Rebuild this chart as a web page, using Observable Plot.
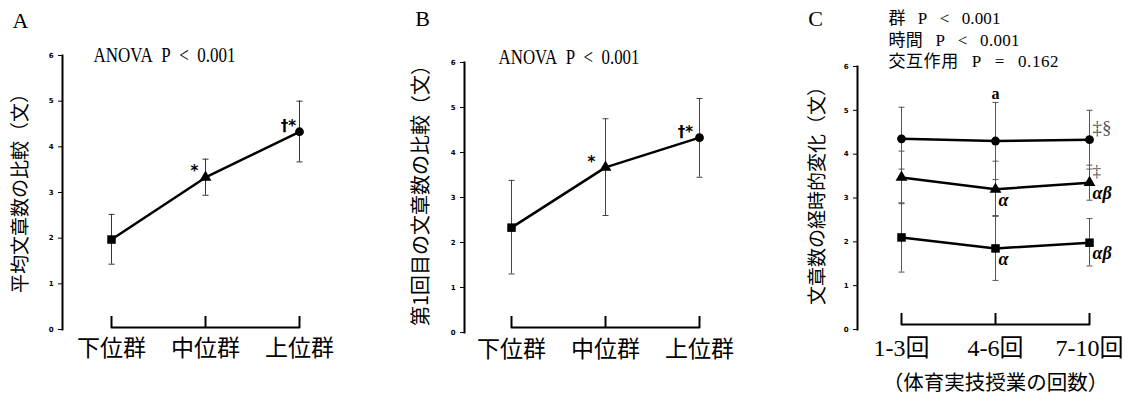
<!DOCTYPE html>
<html><head><meta charset="utf-8">
<script src="https://cdn.jsdelivr.net/npm/d3@7"></script>
<script src="https://cdn.jsdelivr.net/npm/@observablehq/plot@0.6"></script>
<style>
html,body{margin:0;padding:0;background:#fff;}
#wrap{position:relative;width:1128px;height:398px;overflow:hidden;background:#fff;}
.panel{position:absolute;top:0;}
</style></head><body><div id="wrap"></div>
<script>
// ---------- data ----------
const yTicks = [0, 1, 2, 3, 4, 5, 6];
const groupCats = ["下位群", "中位群", "上位群"];
const groupShapes = ["square", "triangle", "circle"];

// Panel A
const meanA = [1.97, 3.33, 4.33];
const lowerA = [1.43, 2.94, 3.67];
const upperA = [2.52, 3.73, 5.00];
const markA = ["", "*", "†*"];
const letterA = "A";
const yLabelA = "平均文章数の比較（文）";
const statA = "ANOVA P < 0.001";

// Panel B
const meanB = [2.33, 3.67, 4.33];
const lowerB = [1.30, 2.60, 3.45];
const upperB = [3.38, 4.75, 5.20];
const markB = ["", "*", "†*"];
const letterB = "B";
const yLabelB = "第1回目の文章数の比較（文）";
const statB = "ANOVA P < 0.001";

// Panel C
const timeCats = ["1-3回", "4-6回", "7-10回"];
const seriesC = ["上位群", "中位群", "下位群"];
const shapesC = ["circle", "triangle", "square"];
const meanHighC = [4.35, 4.30, 4.33];
const lowerHighC = [3.66, 3.42, 3.66];
const upperHighC = [5.07, 5.18, 5.00];
const meanMidC = [3.47, 3.20, 3.35];
const lowerMidC = [2.87, 2.60, 2.95];
const upperMidC = [4.07, 3.84, 3.75];
const meanLowC = [2.10, 1.85, 1.98];
const lowerLowC = [1.31, 1.12, 1.45];
const upperLowC = [2.89, 2.58, 2.53];
const letterMarkC = ["", "a", ""];          // above 上位群 error bar
const daggerHighC = ["", "", "‡§"];
const daggerMidC = ["", "", "‡"];
const greekMidC = ["", "α", "αβ"];
const greekLowC = ["", "α", "αβ"];
const letterC = "C";
const yLabelC = "文章数の経時的変化（文）";
const xLabelC = "（体育実技授業の回数）";
const statsC = ["群 P < 0.001", "時間 P < 0.001", "交互作用 P = 0.162"];

// ---------- helpers ----------
const CJK = "Noto Sans CJK JP";
const wide = s => s.replace(/ /g, "\u2002");
const wider = s => s.replace(/ /g, "\u2002\u2009");
const cap = {draw(ctx) { ctx.moveTo(-3, 0); ctx.lineTo(3, 0); }};
const shapeR = {square: 4.8, triangle: 4.4, circle: 4.4};

function errorMarks(rows, stroke) {
  return [
    Plot.ruleX(rows, {x: "cat", y1: "lo", y2: "hi", stroke, strokeWidth: 1}),
    Plot.dot(rows, {x: "cat", y: "lo", symbol: cap, r: 3, stroke, strokeWidth: 1}),
    Plot.dot(rows, {x: "cat", y: "hi", symbol: cap, r: 3, stroke, strokeWidth: 1})
  ];
}
function shapeMarks(rows) {
  return ["square", "triangle", "circle"].map(s =>
    Plot.dot(rows.filter(d => d.shape === s), {x: "cat", y: "mean", symbol: s, r: shapeR[s], fill: "black", stroke: "none"}));
}
function fitText(chart, selector, content, length, adjust) {
  d3.select(chart).selectAll(selector)
    .filter(function() { return this.textContent === content; })
    .attr("textLength", length).attr("lengthAdjust", adjust);
}

function panel(o) {
  const frameH = o.height - o.marginTop - o.marginBottom;
  const chart = Plot.plot({
    width: 376,
    height: o.height,
    marginLeft: o.marginLeft,
    marginTop: o.marginTop,
    marginBottom: o.marginBottom,
    marginRight: 10,
    x: {type: "point", domain: o.cats, range: o.xRange, padding: 0},
    y: {domain: [0, 6]},
    style: {fontFamily: CJK, background: "white", color: "black", overflow: "visible"},
    marks: [
      Plot.frame({anchor: "left", strokeWidth: 2}),
      Plot.axisY({ticks: yTicks, tickSize: 4, tickPadding: 5, fontSize: 7, fontWeight: "bold", fontFamily: "DejaVu Sans", label: null, tickFormat: d => String(d)}),
      Plot.axisX({tickSize: 0, tickPadding: o.xPad, fontSize: o.xFont, fontFamily: o.xFamily, label: null}),
      Plot.tickX(o.cats, {x: d => d, insetTop: frameH - 11, dy: o.bracketDy, strokeWidth: 2}),
      Plot.line(o.cats, {x: d => d, y: () => 0, dy: o.bracketDy, strokeWidth: 2}),
      ...errorMarks(o.rows, o.errStroke),
      Plot.line(o.rows, {x: "cat", y: "mean", z: "series", stroke: "black", strokeWidth: 2.5}),
      ...shapeMarks(o.rows),
      Plot.text([o.yLabel], {frameAnchor: "left", textAnchor: "middle", lineAnchor: "middle", rotate: -90, dx: o.yLabelDx, dy: o.yLabelDy, fontSize: o.yLabelFont, fontFamily: CJK}),
      Plot.text([o.letter], {frameAnchor: "top-left", dx: o.letterDx, dy: o.letterDy, fontSize: 22, fontFamily: "Liberation Serif", textAnchor: "middle", lineAnchor: "middle"}),
      ...o.extra
    ]
  });
  chart.classList.add("panel");
  chart.style.left = o.left + "px";
  return chart;
}

const wrap = document.getElementById("wrap");

// Panel A
const rowsA = groupCats.map((c, i) => ({cat: c, mean: meanA[i], lo: lowerA[i], hi: upperA[i], shape: groupShapes[i], mark: markA[i], series: "A"}));
const chartA = panel({
  left: 0, height: 398, marginLeft: 62, marginTop: 55, marginBottom: 69,
  cats: groupCats, xRange: [110, 299], rows: rowsA, errStroke: "#333",
  xPad: 10, xFont: 23, xFamily: CJK, bracketDy: -2,
  yLabel: yLabelA, yLabelDx: -42, yLabelDy: -4, yLabelFont: 19,
  letter: letterA, letterDx: -42, letterDy: -35,
  extra: [
    Plot.text([wide(statA)], {frameAnchor: "top-left", dx: 31, dy: 0, textAnchor: "start", lineAnchor: "middle", fontSize: 20, fontFamily: "Liberation Serif"}),
    Plot.text(rowsA, {x: "cat", y: "mean", text: "mark", dx: -11, dy: -6, fontSize: 15, fontWeight: "bold", fontFamily: "DejaVu Sans"})
  ]
});
fitText(chartA, "text", wide(statA), 142, "spacingAndGlyphs");
wrap.appendChild(chartA);

// Panel B
const rowsB = groupCats.map((c, i) => ({cat: c, mean: meanB[i], lo: lowerB[i], hi: upperB[i], shape: groupShapes[i], mark: markB[i], series: "B"}));
const chartB = panel({
  left: 376, height: 398, marginLeft: 88, marginTop: 62, marginBottom: 66,
  cats: groupCats, xRange: [134, 323], rows: rowsB, errStroke: "#444",
  xPad: 8, xFont: 23, xFamily: CJK, bracketDy: -5,
  yLabel: yLabelB, yLabelDx: -43, yLabelDy: -7, yLabelFont: 20,
  letter: letterB, letterDx: -42, letterDy: -44,
  extra: [
    Plot.text([wide(statB)], {frameAnchor: "top-left", dx: 34, dy: -5, textAnchor: "start", lineAnchor: "middle", fontSize: 20, fontFamily: "Liberation Serif"}),
    Plot.text(rowsB, {x: "cat", y: "mean", text: "mark", dx: -14, dy: -5, fontSize: 15, fontWeight: "bold", fontFamily: "DejaVu Sans"})
  ]
});
fitText(chartB, "text", wide(statB), 141, "spacingAndGlyphs");
wrap.appendChild(chartB);

// Panel C
const seriesData = [
  [meanHighC, lowerHighC, upperHighC],
  [meanMidC, lowerMidC, upperMidC],
  [meanLowC, lowerLowC, upperLowC]
];
const daggerC = [daggerHighC, daggerMidC, null];
const greekC = [null, greekMidC, greekLowC];
const rowsC = seriesC.flatMap((s, k) => timeCats.map((c, i) => ({
  cat: c, series: s, shape: shapesC[k],
  mean: seriesData[k][0][i], lo: seriesData[k][1][i], hi: seriesData[k][2][i],
  letter: k === 0 ? letterMarkC[i] : "",
  dagger: daggerC[k] ? daggerC[k][i] : "",
  greek: greekC[k] ? greekC[k][i] : ""
})));
const statFont = "Liberation Serif, Noto Sans CJK JP";
const chartC = panel({
  left: 752, height: 398, marginLeft: 105, marginTop: 66, marginBottom: 69,
  cats: timeCats, xRange: [148, 337], rows: rowsC, errStroke: "#555",
  xPad: 9, xFont: 24, xFamily: statFont, bracketDy: -5,
  yLabel: yLabelC, yLabelDx: -40, yLabelDy: -7, yLabelFont: 19,
  letter: letterC, letterDx: -42, letterDy: -48,
  extra: [
    Plot.text([statsC.map(wider).join("\n")], {frameAnchor: "top-left", dx: 31, dy: -58, textAnchor: "start", lineAnchor: "top", lineHeight: 1.28, fontSize: 17, fontFamily: statFont}),
    Plot.text([xLabelC], {x: () => timeCats[1], y: () => 0, dy: 54, fontSize: 20.5, fontFamily: CJK}),
    Plot.text(rowsC, {x: "cat", y: "hi", text: "letter", dy: -9, fontSize: 16, fontWeight: "bold", fontFamily: "Liberation Serif"}),
    Plot.text(rowsC.filter(d => d.series === seriesC[0]), {x: "cat", y: "mean", text: "dagger", dx: 3, dy: -12, textAnchor: "start", fontSize: 19, fill: "#555", fontFamily: "Liberation Serif"}),
    Plot.text(rowsC.filter(d => d.series === seriesC[1]), {x: "cat", y: "mean", text: "dagger", dx: 3, dy: -11, textAnchor: "start", fontSize: 17, fill: "#555", fontFamily: "Liberation Serif"}),
    Plot.text(rowsC, {x: "cat", y: "mean", text: "greek", dx: 3, dy: 11, textAnchor: "start", fontSize: 18, fontStyle: "italic", fontWeight: "bold", fontFamily: "Liberation Serif"})
  ]
});
const statLengths = [112, 131, 170];
statsC.forEach((s, i) => fitText(chartC, "tspan", wider(s), statLengths[i], "spacing"));
wrap.appendChild(chartC);
</script></body></html>
